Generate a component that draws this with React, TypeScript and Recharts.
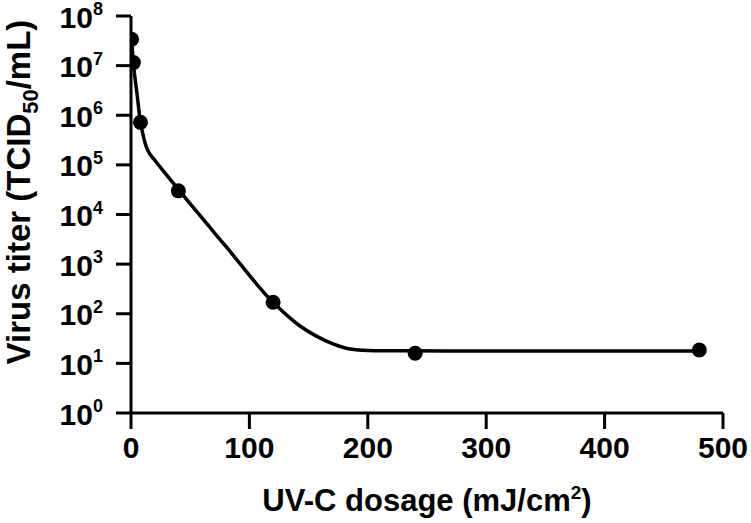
import React from "react";
import { ComposedChart, Line, XAxis, YAxis } from "recharts";

// measured points (UV-C dose in mJ/cm2, titer in TCID50/mL)
const doses = [0.5, 2, 8, 40, 120, 240, 480];
const titers = [3.4e7, 1.15e7, 7.2e5, 3.0e4, 170, 16, 18.6];

// fitted curve
const fitDoses = [0.5, 2, 5, 8, 10, 12, 14, 20, 30, 40, 80, 120, 143, 157, 170, 185, 200, 230, 300, 400, 480];
const fitTiters = [3.2e7, 1.12e7, 2.8e6, 7.2e5, 4.2e5, 2.7e5, 2.0e5, 1.25e5, 6.3e4, 3.2e4, 2.3e3, 170, 56, 35, 25, 19.5, 18.2, 17.9, 17.8, 17.8, 17.8];

const xTicks = [0, 100, 200, 300, 400, 500];
const yTicks = [1, 1e1, 1e2, 1e3, 1e4, 1e5, 1e6, 1e7, 1e8];

const points = doses.map((x, i) => ({ x, y: titers[i] }));
const fit = fitDoses.map((x, i) => ({ x, y: fitTiters[i] }));

const FONT = "'Liberation Sans', Arial, Helvetica, sans-serif";

const YTick = ({ x, y, payload }: any) => {
  const exp = Math.round(Math.log10(payload.value));
  return (
    <text x={x} y={y + 11.5} textAnchor="end" fontFamily={FONT} fontWeight="bold" fontSize={30} fill="#000">
      <tspan>10</tspan>
      <tspan dy={-12.5} fontSize={18}>{exp}</tspan>
    </text>
  );
};

const XTick = ({ x, y, payload }: any) => (
  <text x={x} y={y + 27} textAnchor="middle" fontFamily={FONT} fontWeight="bold" fontSize={30} fill="#000">
    {payload.value}
  </text>
);

const XTitle = ({ viewBox }: any) => (
  <text
    x={viewBox.x + viewBox.width / 2}
    y={viewBox.y + 98}
    textAnchor="middle"
    fontFamily={FONT}
    fontWeight="bold"
    fontSize={31}
    fill="#000"
  >
    <tspan>UV-C dosage (mJ/cm</tspan>
    <tspan dy={-12} fontSize={19}>2</tspan>
    <tspan dy={12}>)</tspan>
  </text>
);

const YTitle = () => (
  <text
    transform="translate(30, 192) rotate(-90)"
    textAnchor="middle"
    fontFamily={FONT}
    fontWeight="bold"
    fontSize={33}
    fill="#000"
  >
    <tspan>Virus titer (TCID</tspan>
    <tspan dy={8} fontSize={22}>50</tspan>
    <tspan dy={-8}>/mL)</tspan>
  </text>
);

export default function App() {
  return (
    <div style={{ position: "absolute", left: 0, top: 0, width: 751, height: 523, background: "#fff" }}>
      <ComposedChart width={751} height={523} margin={{ top: 16, right: 28, left: 0, bottom: 0 }}>
        <XAxis
          type="number"
          dataKey="x"
          domain={[0, 500]}
          ticks={xTicks}
          height={110}
          tickSize={16}
          tickMargin={2}
          axisLine={{ stroke: "#000", strokeWidth: 3 }}
          tickLine={{ stroke: "#000", strokeWidth: 3 }}
          tick={<XTick />}
          label={<XTitle />}
          allowDataOverflow
        />
        <YAxis
          type="number"
          dataKey="y"
          scale="log"
          domain={[1, 1e8]}
          ticks={yTicks}
          width={131}
          tickSize={15}
          tickMargin={13}
          axisLine={{ stroke: "#000", strokeWidth: 3 }}
          tickLine={{ stroke: "#000", strokeWidth: 3 }}
          tick={<YTick />}
          label={<YTitle />}
          allowDataOverflow
        />
        <Line
          data={fit}
          dataKey="y"
          type="monotone"
          stroke="#000"
          strokeWidth={3.5}
          dot={false}
          activeDot={false}
          isAnimationActive={false}
        />
        <Line
          data={points}
          dataKey="y"
          stroke="none"
          dot={{ r: 7.5, fill: "#000", stroke: "none" }}
          activeDot={false}
          isAnimationActive={false}
        />
      </ComposedChart>
    </div>
  );
}
